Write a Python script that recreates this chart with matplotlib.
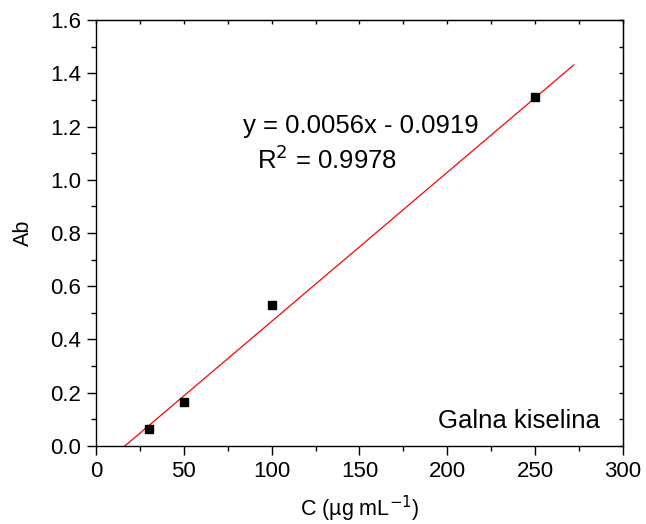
import numpy as np
import matplotlib.pyplot as plt
from matplotlib.ticker import MultipleLocator

plt.rcParams['font.family'] = ['Liberation Sans', 'DejaVu Sans']

# measured points
conc = [30, 50, 100, 250]
absorb = [0.065, 0.165, 0.53, 1.31]

# linear fit as printed on the chart
slope = 0.0056
intercept = -0.0919
r2 = 0.9978
fit_x = [16.4, 272]

fig = plt.figure(figsize=(6.46, 5.24), dpi=100)
ax = fig.add_axes([0.1486, 0.1489, 0.9644 - 0.1486, 0.9618 - 0.1489])

fx = np.array(fit_x)
ax.plot(fx, slope * fx + intercept, color='red', lw=0.9)
ax.plot(conc, absorb, 's', color='black', ms=6.3)

ax.set_xlim(0, 300)
ax.set_ylim(0, 1.6)
ax.xaxis.set_major_locator(MultipleLocator(50))
ax.xaxis.set_minor_locator(MultipleLocator(25))
ax.yaxis.set_major_locator(MultipleLocator(0.2))
ax.yaxis.set_minor_locator(MultipleLocator(0.1))
ax.yaxis.set_major_formatter(plt.FormatStrFormatter('%.1f'))

ax.tick_params(which='major', direction='out', length=6.5, width=1, labelsize=16, pad=4)
ax.tick_params(which='minor', direction='out', length=3.8, width=1)
for s in ax.spines.values():
    s.set_linewidth(1)

# top / right ticks pointing in
top = ax.secondary_xaxis('top')
top.xaxis.set_major_locator(MultipleLocator(50))
top.xaxis.set_minor_locator(MultipleLocator(25))
top.tick_params(which='both', direction='in', length=3, width=1, labeltop=False)
right = ax.secondary_yaxis('right')
right.yaxis.set_major_locator(MultipleLocator(0.2))
right.yaxis.set_minor_locator(MultipleLocator(0.1))
right.tick_params(which='both', direction='in', length=3, width=1, labelright=False)

ax.set_xlabel('C (µg mL$^{-1}$)', fontsize=15.5)
ax.set_ylabel('Ab', fontsize=15.5)
ax.xaxis.set_label_coords(0.5, -0.112)
ax.yaxis.set_label_coords(-0.117, 0.5)

ax.text(83.7, 1.176, 'y = %.4fx - %.4f' % (slope, -intercept), fontsize=18.5, va='baseline')
ax.text(91.6, 1.04, 'R$^2$ = %.4f' % r2, fontsize=18.5, va='baseline')
ax.text(0.956, 0.042, 'Galna kiselina', fontsize=18.5, ha='right', va='baseline',
        transform=ax.transAxes)

fig.savefig('out.png', dpi=100)
